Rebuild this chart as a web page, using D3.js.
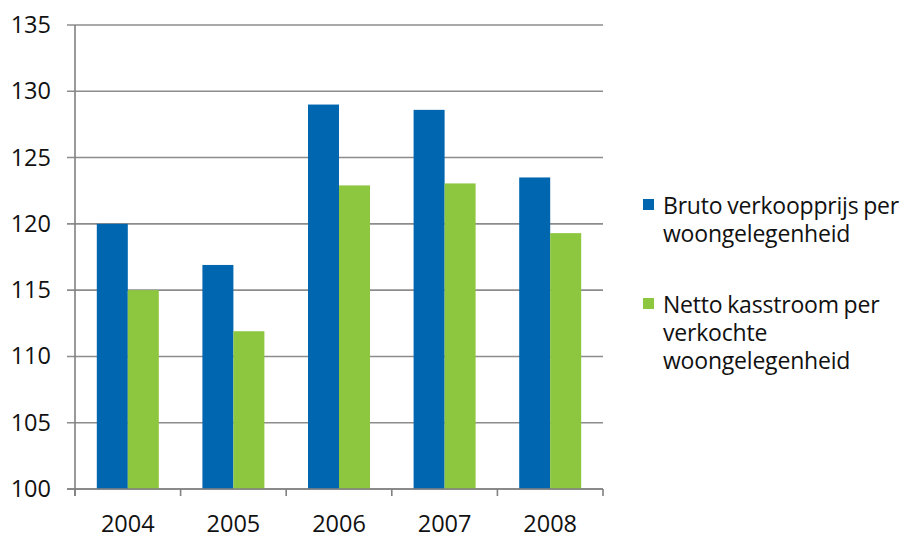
<!DOCTYPE html>
<html>
<head>
<meta charset="utf-8">
<script src="https://cdn.jsdelivr.net/npm/d3@7"></script>
<style>
  body { margin: 0; background: #fff; }
  text { font-family: "Open Sans", "Lato", sans-serif; fill: #111; }
</style>
</head>
<body>
<div id="container"></div>
<script>
var years = ["2004", "2005", "2006", "2007", "2008"];
var bruto = [120, 116.9, 129, 128.6, 123.5];
var netto = [115, 111.9, 122.9, 123.05, 119.3];
var seriesNames = [
  ["Bruto verkoopprijs per", "woongelegenheid"],
  ["Netto kasstroom per", "verkochte", "woongelegenheid"]
];
var colors = ["#0066b0", "#8dc63f"];
var yTicks = [100, 105, 110, 115, 120, 125, 130, 135];

var width = 909, height = 538;
var m = { left: 75, right: 603, top: 25, bottom: 489 };

var svg = d3.select("#container").append("svg")
  .attr("width", width).attr("height", height);

var x = d3.scaleBand().domain(years).range([m.left, m.right]);
var y = d3.scaleLinear().domain([100, 135]).range([m.bottom, m.top]);

// gridlines
svg.append("g").selectAll("line").data(yTicks).enter().append("line")
  .attr("x1", m.left - 8).attr("x2", m.right)
  .attr("y1", function (d) { return y(d); })
  .attr("y2", function (d) { return y(d); })
  .attr("stroke", "#8c8c8c").attr("stroke-width", 1.6);

// y labels
svg.append("g").selectAll("text").data(yTicks).enter().append("text")
  .attr("x", 51).attr("y", function (d) { return y(d) + 8; })
  .attr("text-anchor", "end").attr("font-size", 23.5)
  .text(function (d) { return d; });

// bars
var bw = 31;
var data = years.map(function (yr, i) { return { year: yr, vals: [bruto[i], netto[i]] }; });
var groups = svg.append("g").selectAll("g").data(data).enter().append("g");
groups.selectAll("rect").data(function (d) {
    return d.vals.map(function (v, k) { return { year: d.year, v: v, k: k }; });
  }).enter().append("rect")
  .attr("x", function (d) { return x(d.year) + x.bandwidth() / 2 - bw + d.k * bw; })
  .attr("y", function (d) { return y(d.v); })
  .attr("width", bw)
  .attr("height", function (d) { return m.bottom - y(d.v); })
  .attr("fill", function (d) { return colors[d.k]; });

// axes lines
svg.append("line").attr("x1", m.left).attr("x2", m.left).attr("y1", m.top).attr("y2", m.bottom + 7)
  .attr("stroke", "#808080").attr("stroke-width", 1.6);
svg.append("line").attr("x1", m.left - 8).attr("x2", m.right).attr("y1", m.bottom).attr("y2", m.bottom)
  .attr("stroke", "#808080").attr("stroke-width", 1.6);

// x ticks at boundaries
var bounds = years.map(function (d) { return x(d); }).concat([m.right]);
svg.append("g").selectAll("line").data(bounds).enter().append("line")
  .attr("x1", function (d) { return d; }).attr("x2", function (d) { return d; })
  .attr("y1", m.bottom).attr("y2", m.bottom + 7)
  .attr("stroke", "#808080").attr("stroke-width", 1.6);

// x labels
svg.append("g").selectAll("text").data(years).enter().append("text")
  .attr("x", function (d) { return x(d) + x.bandwidth() / 2; })
  .attr("y", 532).attr("text-anchor", "middle").attr("font-size", 23.5)
  .text(function (d) { return d; });

// legend
var legendTops = [199, 298];
seriesNames.forEach(function (lines, k) {
  var g = svg.append("g");
  g.append("rect").attr("x", 643).attr("y", legendTops[k])
    .attr("width", 11).attr("height", 11).attr("fill", colors[k]);
  g.append("text").attr("x", 663).attr("y", legendTops[k] + 15).attr("font-size", 23)
    .attr("letter-spacing", -0.2).attr("word-spacing", -1)
    .selectAll("tspan").data(lines).enter().append("tspan")
    .attr("x", 663).attr("dy", function (d, i) { return i === 0 ? 0 : 28; })
    .text(function (d) { return d; });
});
</script>
</body>
</html>
